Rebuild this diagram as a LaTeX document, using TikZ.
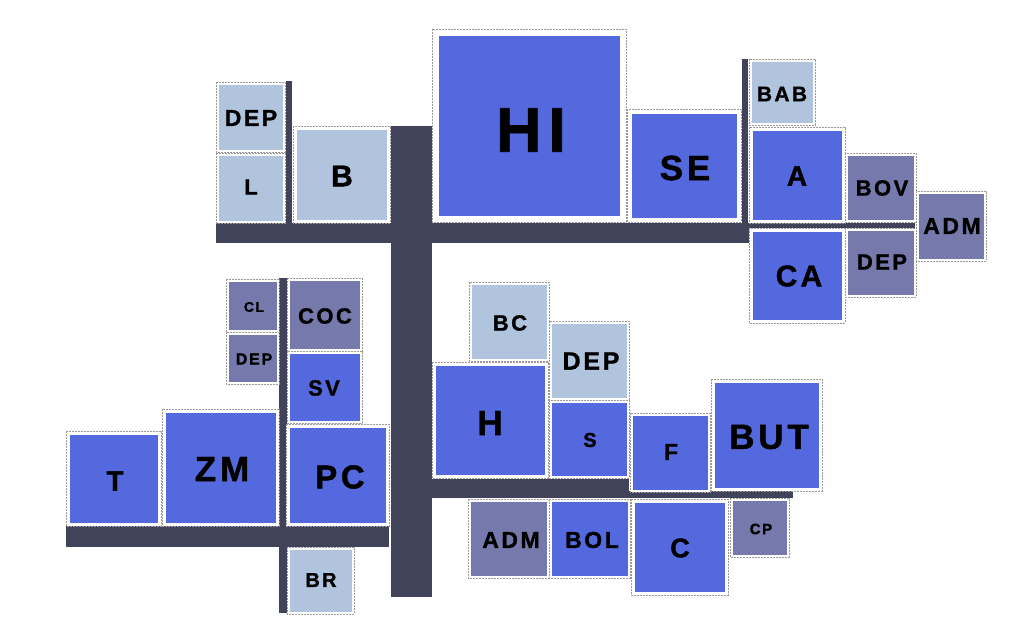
\documentclass[tikz,border=0pt]{standalone}
\usepackage{fontspec}
\setmainfont{Liberation Sans}[LetterSpace=11, BoldFeatures={FakeBold=1.2}]
\definecolor{cblue}{HTML}{5469DD}
\definecolor{clight}{HTML}{B0C4DE}
\definecolor{cslate}{HTML}{7579AB}
\definecolor{cbar}{HTML}{40435A}
\definecolor{cdash}{HTML}{9A9A9A}
\tikzset{
  boxout/.style={draw=cdash, line width=0.8pt, dash pattern=on 2pt off 1pt, fill=white},
  barfill/.style={fill=cbar},
  lbl/.style={font=\bfseries, text=black, inner sep=0pt, anchor=center}
}
\newcommand\bx[6]{%
  \draw[boxout] (#1,#2) rectangle (#3,#4);
  \fill[#5, draw=white, line width=0.6pt] (#1+#6,#2+#6) rectangle (#3-#6,#4-#6);}
\newcommand\lb[4]{\node[lbl, font=\fontsize{#3}{#3}\selectfont\bfseries] (#1) at (#2) {#4};}
\begin{document}
\begin{tikzpicture}[x=1pt,y=-1pt]
\useasboundingbox (0,0) rectangle (1011,635);
% bars
\fill[barfill] (391,126) rectangle (432,597);
\fill[barfill] (216,223) rectangle (750,243);
\fill[barfill] (286,81) rectangle (292,223);
\fill[barfill] (742,59) rectangle (748,242);
\fill[barfill] (748,223) rectangle (915,228);
\fill[barfill] (66,526) rectangle (389,547);
\fill[barfill] (279,278) rectangle (287,613);
\fill[barfill] (432,479) rectangle (629,498);
\fill[barfill] (629,491) rectangle (793,498);
% boxes top-left
\bx{216}{82}{285}{152}{clight}{2}
\bx{216}{153}{285}{223}{clight}{2}
\bx{293}{126}{390}{223}{clight}{3}
% top middle
\bx{432}{29}{626}{222}{cblue}{6}
\bx{627}{109}{741}{222}{cblue}{4}
% right cluster
\bx{749}{59}{815}{125}{clight}{2}
\bx{749}{127}{845}{223}{cblue}{3}
\bx{749}{228}{845}{323}{cblue}{3}
\bx{845}{153}{916}{222}{cslate}{2}
\bx{845}{228}{916}{297}{cslate}{2}
\bx{916}{191}{986}{261}{cslate}{2}
% lower left
\bx{226}{279}{279}{332}{cslate}{2}
\bx{226}{332}{279}{384}{cslate}{2}
\bx{287}{278}{362}{351}{cslate}{2}
\bx{287}{351}{362}{423}{cblue}{2}
\bx{286}{424}{389}{526}{cblue}{3}
\bx{162}{409}{279}{526}{cblue}{3}
\bx{66}{431}{161}{526}{cblue}{3}
\bx{287}{547}{354}{614}{clight}{2}
% lower right
\bx{469}{282}{549}{361}{clight}{2}
\bx{549}{321}{629}{400}{clight}{2}
\bx{432}{362}{548}{478}{cblue}{3}
\bx{549}{400}{629}{478}{cblue}{2}
\bx{630}{413}{710}{492}{cblue}{2}
\bx{711}{379}{822}{491}{cblue}{3}
\bx{468}{499}{549}{578}{cslate}{2}
\bx{549}{499}{630}{578}{cblue}{2}
\bx{631}{499}{728}{595}{cblue}{3}
\bx{730}{498}{789}{557}{cslate}{2}
% labels
\lb{tDEP}{251,118}{23}{DEP}
\lb{tL}{251,187}{22}{L}
\lb{tB}{342,176}{30}{B}
\lb{tHI}{531,130}{63}{HI}
\lb{tSE}{685,168}{35}{SE}
\lb{tBAB}{782,94}{21}{BAB}
\lb{tA}{797,176}{28}{A}
\lb{tBOV}{882,188}{22}{BOV}
\lb{tADMr}{952,226}{23}{ADM}
\lb{tCA}{799,276}{30}{CA}
\lb{tDEPr}{882,262}{22}{DEP}
\lb{tCL}{254,307}{14}{CL}
\lb{tDEPs}{254,359}{16}{DEP}
\lb{tCOC}{325,316}{22}{COC}
\lb{tSV}{324,388}{22}{SV}
\lb{tPC}{340,477}{33}{PC}
\lb{tZM}{222,469}{35}{ZM}
\lb{tT}{115,481}{28}{T}
\lb{tBR}{321,580}{20}{BR}
\lb{tBC}{510,323}{22}{BC}
\lb{tDEPm}{591,361}{25}{DEP}
\lb{tH}{490,423}{35}{H}
\lb{tS}{590,440}{20}{S}
\lb{tF}{671,452}{23}{F}
\lb{tBUT}{769,437}{35}{BUT}
\lb{tADMb}{511,540}{23}{ADM}
\lb{tBOL}{592,540}{23}{BOL}
\lb{tC}{680,548}{27}{C}
\lb{tCP}{761,529}{15}{CP}
\end{tikzpicture}
\end{document}
